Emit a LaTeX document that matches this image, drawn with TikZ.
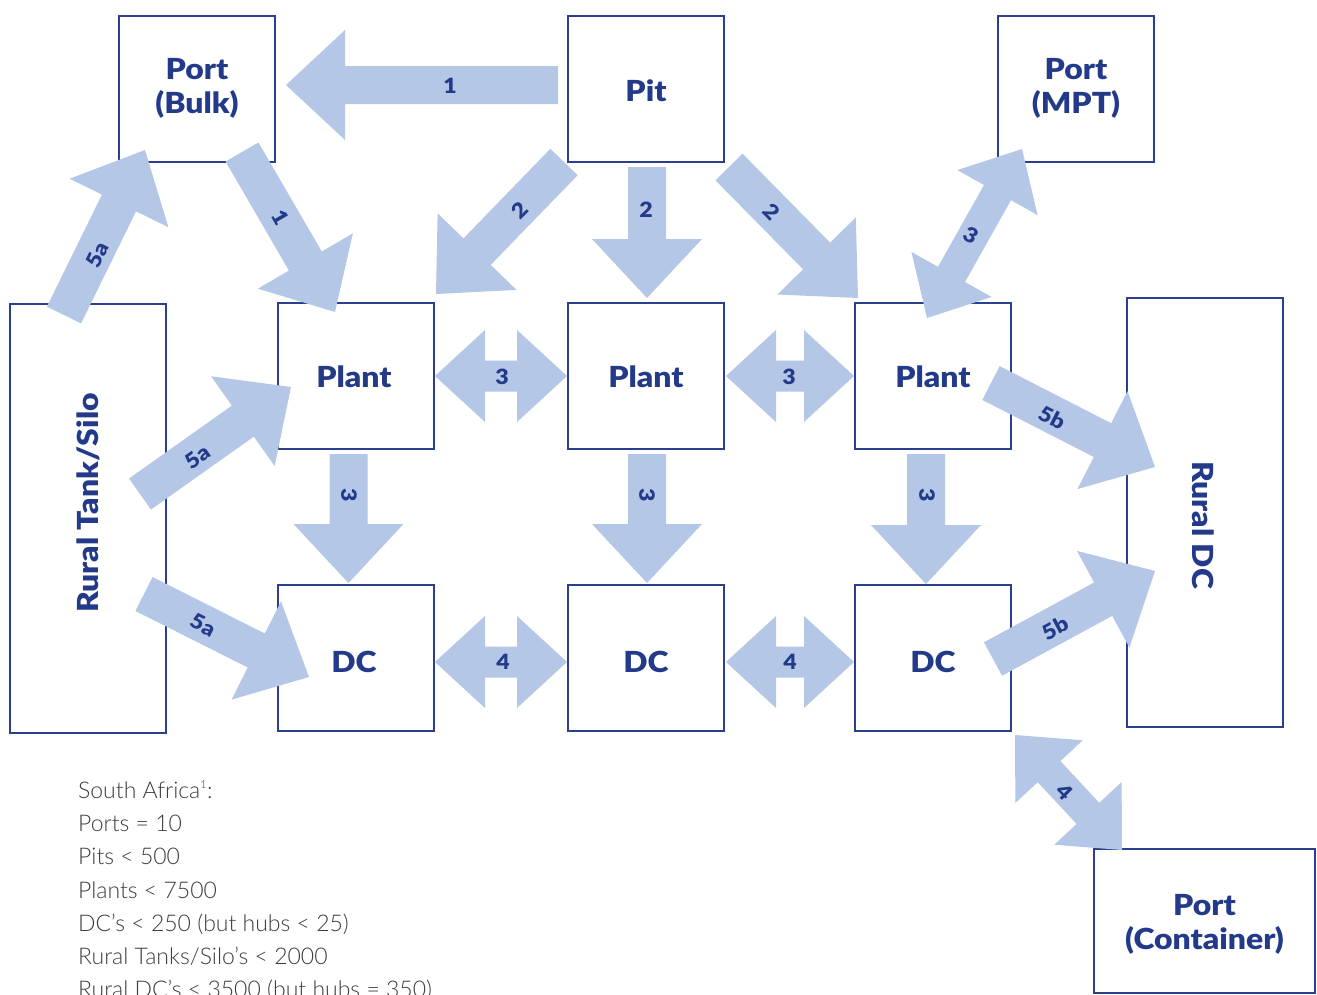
\documentclass[tikz,border=0pt]{standalone}
\usepackage{fontspec}
\setmainfont{Lato}
\newfontfamily\notefont{Lato Light}
\newfontfamily\heavyfont{Lato Black}[FakeStretch=1.1]
\usetikzlibrary{calc}
\definecolor{boxblue}{HTML}{2A3F8F}
\definecolor{txtblue}{HTML}{233A8A}
\definecolor{arrowblue}{HTML}{B4C7E6}
\definecolor{notegray}{HTML}{3C3C3C}
% single block arrow: tail -> tip
\newcommand\sarr[2]{%
 \fill[arrowblue] let \p1=(#1), \p2=(#2), \n1={atan2(\y2-\y1,\x2-\x1)}, \n2={veclen(\x2-\x1,\y2-\y1)} in
 ($(\p1)+({\n1+90}:19pt)$) --
 ($(\p1)+({\n1}:{\n2-59pt})+({\n1+90}:19pt)$) --
 ($(\p1)+({\n1}:{\n2-59pt})+({\n1+90}:55pt)$) --
 (\p2) --
 ($(\p1)+({\n1}:{\n2-59pt})+({\n1-90}:55pt)$) --
 ($(\p1)+({\n1}:{\n2-59pt})+({\n1-90}:19pt)$) --
 ($(\p1)+({\n1-90}:19pt)$) -- cycle;}
% double block arrow: tip <-> tip
\newcommand\darr[2]{%
 \fill[arrowblue] let \p1=(#1), \p2=(#2), \n1={atan2(\y2-\y1,\x2-\x1)}, \n2={veclen(\x2-\x1,\y2-\y1)} in
 (\p1) --
 ($(\p1)+({\n1}:50pt)+({\n1+90}:46pt)$) --
 ($(\p1)+({\n1}:50pt)+({\n1+90}:15.5pt)$) --
 ($(\p1)+({\n1}:{\n2-50pt})+({\n1+90}:15.5pt)$) --
 ($(\p1)+({\n1}:{\n2-50pt})+({\n1+90}:46pt)$) --
 (\p2) --
 ($(\p1)+({\n1}:{\n2-50pt})+({\n1-90}:46pt)$) --
 ($(\p1)+({\n1}:{\n2-50pt})+({\n1-90}:15.5pt)$) --
 ($(\p1)+({\n1}:50pt)+({\n1-90}:15.5pt)$) --
 ($(\p1)+({\n1}:50pt)+({\n1-90}:46pt)$) -- cycle;}
\tikzset{
  box/.style={draw=boxblue, line width=2.6pt, minimum width=156pt, minimum height=146pt,
    inner sep=0pt},
  tallbox/.style={box, minimum height=429pt},
  boxtext/.style={text=txtblue, font=\heavyfont\fontsize{29}{34}\selectfont, inner sep=0pt, align=center},
  num/.style={text=txtblue, font=\heavyfont\fontsize{21}{21}\selectfont, inner sep=0pt},
  note/.style={text=notegray, font=\notefont\fontsize{23}{28}\selectfont, anchor=base west, inner sep=0pt}
}
\begin{document}
\begin{tikzpicture}[x=1pt,y=-1pt]
\useasboundingbox (0,0) rectangle (1317,994);
% boxes
\node[box] (bulk) at (197,89) {};
\node[box] (pit) at (646,89) {};
\node[box] (mpt) at (1076,89) {};
\node[box] (plantA) at (356,376) {};
\node[box] (plantB) at (646,376) {};
\node[box] (plantC) at (933,376) {};
\node[box] (dcA) at (356,658) {};
\node[box] (dcB) at (646,658) {};
\node[box] (dcC) at (933,658) {};
\node[tallbox] (tank) at (88,518.5) {};
\node[tallbox] (rdc) at (1205,512.5) {};
\node[box, minimum width=221pt, minimum height=144pt] (cont) at (1204.5,921) {};
% box texts
\node[boxtext] (bulklbl) at (197,88) {Port\\(Bulk)};
\node[boxtext] (pitlbl) at (646,91) {Pit};
\node[boxtext] (mptlbl) at (1076,88) {Port\\(MPT)};
\node[boxtext] (plantAlbl) at (354,377) {Plant};
\node[boxtext] (plantBlbl) at (646,377) {Plant};
\node[boxtext] (plantClbl) at (933,377) {Plant};
\node[boxtext] (dcAlbl) at (354,662) {DC};
\node[boxtext] (dcBlbl) at (646,662) {DC};
\node[boxtext] (dcClbl) at (933,662) {DC};
\node[boxtext] (contlbl) at (1204.5,924) {Port\\(Container)};
\node[boxtext, rotate=90] (tanklbl) at (88,503) {Rural Tank/Silo};
\node[boxtext, rotate=-90] (rdclbl) at (1203,525) {Rural DC};
% arrow end points
\coordinate (a1s) at (558,85);   \coordinate (a1e) at (286,85);
\coordinate (a2s) at (242,152);  \coordinate (a2e) at (335,312);
\coordinate (a3s) at (564,162);  \coordinate (a3e) at (436,294);
\coordinate (a4s) at (647,167);  \coordinate (a4e) at (647,298);
\coordinate (a5s) at (729,167);  \coordinate (a5e) at (858,298);
\coordinate (a6s) at (348.5,454); \coordinate (a6e) at (348.5,583);
\coordinate (a7s) at (647,454);  \coordinate (a7e) at (647,583);
\coordinate (a8s) at (926,454);  \coordinate (a8e) at (926,584);
\coordinate (a9s) at (64,315);   \coordinate (a9e) at (145,150);
\coordinate (a10s) at (140,494); \coordinate (a10e) at (291,387);
\coordinate (a11s) at (144,594); \coordinate (a11e) at (309,677);
\coordinate (a12s) at (991,383); \coordinate (a12e) at (1155,467);
\coordinate (a13s) at (993,659); \coordinate (a13e) at (1155,571);
\coordinate (d1s) at (435,376);  \coordinate (d1e) at (567,376);
\coordinate (d2s) at (726,376);  \coordinate (d2e) at (854,376);
\coordinate (d3s) at (435,662);  \coordinate (d3e) at (567,662);
\coordinate (d4s) at (726,662);  \coordinate (d4e) at (854,662);
\coordinate (d5s) at (927,318);  \coordinate (d5e) at (1022,149);
\coordinate (d6s) at (1015,735); \coordinate (d6e) at (1122,850);
% arrows
\sarr{a1s}{a1e} \sarr{a2s}{a2e} \sarr{a3s}{a3e} \sarr{a4s}{a4e} \sarr{a5s}{a5e}
\sarr{a6s}{a6e} \sarr{a7s}{a7e} \sarr{a8s}{a8e}
\sarr{a9s}{a9e} \sarr{a10s}{a10e} \sarr{a11s}{a11e} \sarr{a12s}{a12e} \sarr{a13s}{a13e}
\darr{d1s}{d1e} \darr{d2s}{d2e} \darr{d3s}{d3e} \darr{d4s}{d4e} \darr{d5s}{d5e} \darr{d6s}{d6e}
% arrow labels
\node[num] (l1) at (450,86) {1};
\node[num, rotate=-60] (l2) at (280,217) {1};
\node[num, rotate=45] (l3) at (520,210) {2};
\node[num] (l4) at (646,210) {2};
\node[num, rotate=-45] (l5) at (772,212) {2};
\node[num, rotate=-90] (l6) at (349,495) {3};
\node[num, rotate=-90] (l7) at (647,495) {3};
\node[num, rotate=-90] (l8) at (927,495) {3};
\node[num, rotate=64] (l9) at (97,255) {5a};
\node[num, rotate=35] (l10) at (198,457) {5a};
\node[num, rotate=-27] (l11) at (203,625) {5a};
\node[num, rotate=-27] (l12) at (1052,418) {5b};
\node[num, rotate=28] (l13) at (1055,628) {5b};
\node[num] (l14) at (502,377) {3};
\node[num] (l15) at (789,377) {3};
\node[num] (l16) at (503,662) {4};
\node[num] (l17) at (790,662) {4};
\node[num, rotate=-30] (l18) at (971,235) {3};
\node[num, rotate=-45] (l19) at (1065,792) {4};
% notes
\node[note] (n1) at (78,798) {South Africa\textsuperscript{\fontsize{11}{11}\selectfont 1}:};
\node[note] (n2) at (78,831) {Ports = 10};
\node[note] (n3) at (78,864) {Pits < 500};
\node[note] (n4) at (78,898) {Plants < 7500};
\node[note] (n5) at (78,931) {DC’s < 250 (but hubs < 25)};
\node[note] (n6) at (78,964) {Rural Tanks/Silo’s < 2000};
\node[note] (n7) at (78,997) {Rural DC’s < 3500 (but hubs = 350)};
\end{tikzpicture}
\end{document}
